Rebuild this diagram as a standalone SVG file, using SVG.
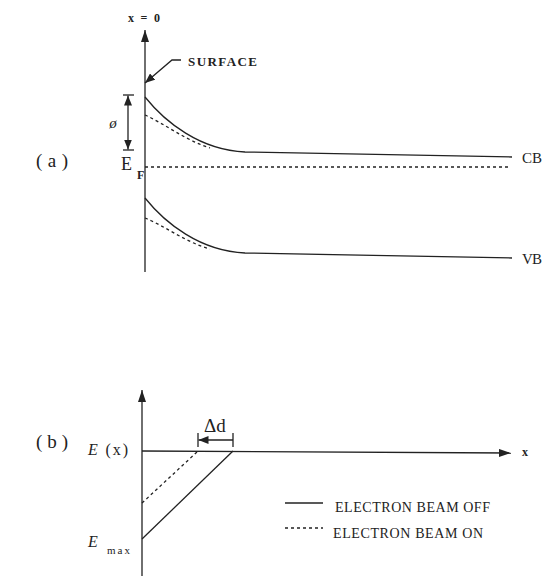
<svg xmlns="http://www.w3.org/2000/svg" width="545" height="576" viewBox="0 0 545 576">
<style>
.ln{fill:none;stroke:#222222;stroke-width:1.3}
.ds{fill:none;stroke:#222222;stroke-width:1.3;stroke-dasharray:3,3}
.t{font-family:"Liberation Serif","DejaVu Serif",serif;fill:#222222}
.b{font-weight:bold}
</style>
<defs>
<marker id="ah" viewBox="0 0 12 8" refX="12" refY="4" markerWidth="12" markerHeight="8" markerUnits="userSpaceOnUse" orient="auto">
<path d="M0,0 L12,4 L0,8 Z" fill="#222222"/>
</marker>
<marker id="ahs" viewBox="0 0 10 8" refX="10" refY="4" markerWidth="10" markerHeight="8" markerUnits="userSpaceOnUse" orient="auto">
<path d="M0,0 L10,4 L0,8 Z" fill="#222222"/>
</marker>
</defs>
<rect width="545" height="576" fill="#ffffff"/>

<g id="connectors">
<!-- panel a axis -->
<line class="ln" x1="145" y1="272" x2="145" y2="30" marker-end="url(#ah)"/>
<!-- surface leader -->
<polyline class="ln" points="181,60 172,60 145,83" marker-end="url(#ahs)"/>
<!-- phi dimension -->
<line class="ln" x1="123" y1="95" x2="134" y2="95"/>
<line class="ln" x1="123" y1="150" x2="134" y2="150"/>
<line class="ln" x1="128" y1="122" x2="128" y2="95.5" marker-end="url(#ahs)"/>
<line class="ln" x1="128" y1="122" x2="128" y2="149.5" marker-end="url(#ahs)"/>
<!-- CB -->
<path class="ln" d="M145,97 C165,122 200,150 245,152 L512,157"/>
<path class="ds" d="M145,115 C165,124 185,140 210,148"/>
<!-- Fermi -->
<line class="ds" x1="145" y1="167" x2="508" y2="167" stroke-dasharray="6,4"/>
<!-- VB -->
<path class="ln" d="M145,198 C165,223 200,251 245,253 L512,258"/>
<path class="ds" d="M145,218 C165,226 185,242 210,249"/>

<!-- panel b axes -->
<line class="ln" x1="142" y1="576" x2="142" y2="390" marker-end="url(#ah)"/>
<line class="ln" x1="142" y1="451" x2="511" y2="453" marker-end="url(#ah)"/>
<!-- solid and dashed lines -->
<line class="ln" x1="142" y1="539" x2="233" y2="451"/>
<line class="ds" x1="142" y1="503" x2="197" y2="452"/>
<!-- delta d bracket -->
<line class="ln" x1="198" y1="433" x2="198" y2="447"/>
<line class="ln" x1="233" y1="433" x2="233" y2="447"/>
<line class="ln" x1="233" y1="440" x2="198.5" y2="440" marker-end="url(#ahs)"/>
<!-- legend lines -->
<line class="ln" x1="285" y1="503" x2="323" y2="503"/>
<line class="ds" x1="285" y1="528" x2="323" y2="528"/>
</g>

<g id="labels">
<text class="t b" x="128" y="22" font-size="12" textLength="32" lengthAdjust="spacing">x = 0</text>
<text class="t b" x="188" y="66" font-size="13" textLength="69" lengthAdjust="spacing">SURFACE</text>
<text class="t" x="113" y="128" font-size="15" font-style="italic" text-anchor="middle">ø</text>
<text class="t" x="121" y="170" font-size="18">E</text>
<text class="t b" x="137" y="179" font-size="12">F</text>
<text class="t" x="36" y="167" font-size="19" textLength="32" lengthAdjust="spacing">(a)</text>
<text class="t" x="522" y="163" font-size="15" textLength="20" lengthAdjust="spacing">CB</text>
<text class="t" x="522" y="264" font-size="15" textLength="20" lengthAdjust="spacing">VB</text>
<text class="t" x="36" y="448" font-size="19" textLength="32" lengthAdjust="spacing">(b)</text>
<text class="t" x="88" y="455" font-size="16" textLength="40" lengthAdjust="spacing"><tspan font-style="italic">E</tspan> (x)</text>
<text class="t" x="204" y="432" font-size="19">Δd</text>
<text class="t b" x="522" y="456" font-size="12">x</text>
<text class="t" x="88" y="547" font-size="16" font-style="italic">E</text>
<text class="t" x="107" y="554" font-size="11" textLength="23" lengthAdjust="spacing">max</text>
<text class="t" x="335" y="512" font-size="14" textLength="155" lengthAdjust="spacing">ELECTRON BEAM OFF</text>
<text class="t" x="333" y="538" font-size="14" textLength="150" lengthAdjust="spacing">ELECTRON BEAM ON</text>
</g>
</svg>
